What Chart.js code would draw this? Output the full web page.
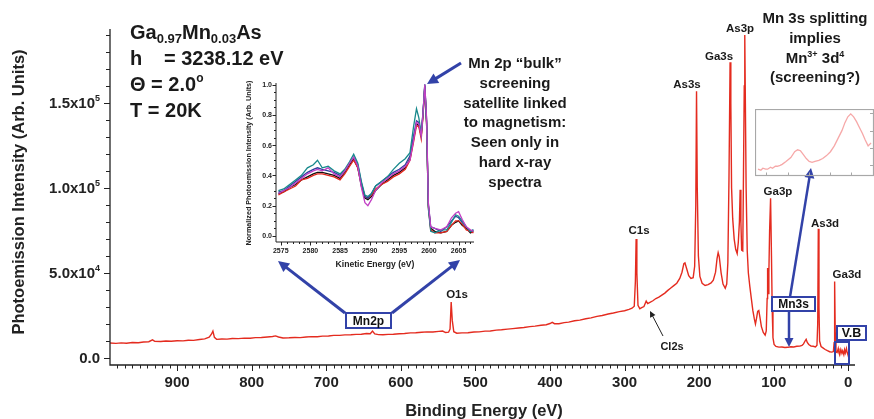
<!DOCTYPE html>
<html>
<head>
<meta charset="utf-8">
<script src="https://cdn.jsdelivr.net/npm/chart.js@4.4.0/dist/chart.umd.min.js"></script>
<style>
  body { margin: 0; background: #fff; }
  #wrap { position: relative; width: 874px; height: 419px; overflow: hidden; }
  canvas { position: absolute; }
</style>
</head>
<body>
<div id="wrap">
  <canvas id="main" width="874" height="419" style="left:0;top:0"></canvas>
  <canvas id="mn2p" width="250" height="200" style="left:230px;top:76px"></canvas>
  <canvas id="mn3s" width="119" height="68" style="left:755px;top:109px"></canvas>
</div>
<script>
// ---- survey spectrum (binding energy in eV, counts) ----
const bindingEnergy = [
  990, 982, 975, 968, 960, 952, 945, 938, 933, 930, 922, 915, 908, 900, 892, 885, 878, 870, 863, 857,
  854, 852, 850, 847, 840, 833, 826, 818, 810, 802, 795, 787, 779, 772, 768, 764, 758, 750, 742, 735,
  727, 720, 712, 705, 697, 690, 682, 675, 667, 660, 653, 646, 641, 638, 635, 630, 624, 617, 610, 602,
  595, 587, 580, 572, 565, 557, 549, 544, 540, 536, 534, 532.5, 531, 529, 525, 518, 510, 502, 495, 487,
  480, 472, 465, 457, 450, 442, 435, 427, 420, 412, 405, 400, 397, 394, 388, 381, 375, 367, 360, 352,
  345, 337, 330, 322, 315, 307, 300, 294, 290, 287, 285.5, 284.5, 283.5, 282, 279.5, 277, 274, 271, 269, 266,
  262, 258, 254, 250, 246, 242, 238, 234, 230, 226, 223, 220.5, 219, 217, 214, 211, 208, 206, 204.5, 203.5,
  202.5, 201, 199, 196, 192, 188, 184, 181, 178, 176, 174.5, 173, 170.5, 168, 165, 163, 161.5, 160, 158.5, 157.5,
  156.5, 155, 153, 151, 149, 147.5, 146, 145, 144, 143, 141.5, 140.5, 139.5, 138.8, 138, 137, 135.5, 134, 132, 130,
  128, 126, 124.5, 123, 121.5, 120, 118.5, 116.5, 114, 111.5, 110, 108.8, 108.2, 107.5, 106.5, 105.5, 104.2, 103, 102, 101,
  99.5, 97, 93, 89, 85, 81, 77, 73, 69, 65, 62, 60, 58, 56.5, 55, 53, 50, 47, 44, 42,
  41, 40.2, 39.3, 38.5, 36.5, 34, 31, 28, 25, 22, 20, 19, 18.3, 17.5, 16.5, 15, 13.5, 12.5, 11.5, 10,
  8.5, 7.5, 6, 5, 4, 2.5, 1.5, 0.5, -1
];
const counts = [
  8800, 8600, 8900, 8700, 9100, 9000, 9400, 9600, 10700, 9800, 9700, 10000, 9900, 10200, 10100, 10500, 10400, 10900, 11300, 12300,
  14000, 15800, 12200, 11000, 11200, 11100, 11500, 11400, 11700, 11600, 12000, 12100, 12400, 12700, 13000, 12400, 11800, 11900, 12100, 12000,
  12400, 12600, 12500, 12900, 13000, 13300, 13300, 13600, 13700, 13900, 14000, 14400, 14300, 15900, 14200, 13800, 13700, 13900, 14000, 14300,
  14400, 14800, 14900, 15200, 15400, 15300, 15700, 15900, 15000, 15200, 17000, 33000, 22000, 15500, 14600, 14800, 14900, 15300, 15400, 15800,
  15900, 16400, 16600, 17000, 17300, 17700, 18000, 18500, 18800, 19300, 19600, 20300, 21000, 20200, 20200, 20800, 21100, 21900, 22300, 23100,
  23600, 24500, 25000, 25900, 26500, 27300, 27800, 28600, 29300, 30500, 45000, 70000, 50000, 31000, 29000, 29600, 30300, 33500, 32000, 32800,
  33700, 35000, 35800, 37000, 38200, 39800, 41200, 42600, 44000, 46800, 50500, 55500, 56000, 53000, 48500, 46800, 47300, 54000, 90000, 157000,
  100000, 60000, 48000, 44000, 42700, 43200, 44200, 45800, 50500, 58500, 62000, 59500, 50000, 43500, 41000, 43500, 56000, 105000, 174000, 150000,
  100000, 82000, 70000, 64000, 61500, 68000, 80000, 99000, 80000, 63500, 63000, 110000, 160000, 190000, 150000, 100000, 63000, 50000, 42000, 35000,
  28000, 23000, 20000, 23500, 27500, 28000, 24000, 18500, 15000, 13500, 16000, 35000, 53000, 38000, 50000, 75000, 94000, 60000, 28000, 12000,
  8000, 6800, 6400, 6500, 6200, 6300, 6600, 6500, 6900, 7000, 7500, 8300, 10000, 11000, 9200, 8000, 7000, 6900, 6500, 7500,
  20000, 76000, 30000, 10000, 6800, 6000, 5000, 4300, 3700, 3500, 3800, 9000, 45000, 15000, 3500, 3200, 5600, 3000, 1800, 5000,
  2800, 4200, 2000, 4800, 3000, 5600, 3200, 2000, -500
];
const yTickValues = [0, 50000, 100000, 150000];
const yTickMantissa = ['0.0', '5.0x10', '1.0x10', '1.5x10'];
const yTickPower = ['', '4', '5', '5'];
const xTickValues = [900, 800, 700, 600, 500, 400, 300, 200, 100, 0];

// ---- Mn 2p inset (kinetic energy, normalized intensity, five scans) ----
const kineticEnergy = [
  2574.6, 2575.5, 2576.5, 2577.5, 2578.5, 2579.5, 2580.5, 2581.2, 2582, 2583, 2584, 2585, 2585.8, 2586.6, 2587.3, 2588,
  2588.6, 2589.2, 2589.7, 2590.3, 2591, 2592, 2593, 2594, 2595, 2596, 2596.8, 2597.4, 2597.9, 2598.3, 2598.7, 2599.0,
  2599.3, 2599.6, 2599.9, 2600.3, 2601, 2602, 2603, 2603.8, 2604.5, 2605, 2605.6, 2606.3, 2607, 2607.5
];
const scanBlack = [
  0.28, 0.29, 0.32, 0.34, 0.37, 0.39, 0.41, 0.42, 0.42, 0.41, 0.40, 0.38, 0.42, 0.47, 0.51, 0.45,
  0.33, 0.25, 0.24, 0.26, 0.30, 0.34, 0.37, 0.40, 0.42, 0.45, 0.51, 0.64, 0.74, 0.73, 0.66, 0.80,
  0.99, 0.75, 0.20, 0.05, 0.03, 0.02, 0.03, 0.07, 0.09, 0.10, 0.07, 0.05, 0.02, 0.03
];
const scanRed = [
  0.27, 0.29, 0.31, 0.33, 0.37, 0.38, 0.40, 0.41, 0.41, 0.40, 0.39, 0.37, 0.41, 0.46, 0.50, 0.45,
  0.34, 0.26, 0.25, 0.27, 0.31, 0.34, 0.36, 0.39, 0.41, 0.44, 0.50, 0.62, 0.73, 0.72, 0.64, 0.79,
  0.98, 0.74, 0.19, 0.04, 0.02, 0.02, 0.03, 0.07, 0.10, 0.10, 0.08, 0.04, 0.03, 0.02
];
const scanBlue = [
  0.29, 0.30, 0.33, 0.36, 0.39, 0.42, 0.44, 0.45, 0.44, 0.43, 0.42, 0.40, 0.43, 0.48, 0.52, 0.47,
  0.35, 0.26, 0.25, 0.28, 0.33, 0.36, 0.39, 0.42, 0.44, 0.47, 0.53, 0.66, 0.76, 0.75, 0.68, 0.82,
  1.00, 0.77, 0.21, 0.06, 0.05, 0.03, 0.06, 0.10, 0.13, 0.12, 0.09, 0.06, 0.03, 0.04
];
const scanTeal = [
  0.30, 0.31, 0.34, 0.37, 0.40, 0.45, 0.47, 0.50, 0.45, 0.46, 0.43, 0.41, 0.44, 0.49, 0.54, 0.48,
  0.36, 0.27, 0.26, 0.28, 0.33, 0.36, 0.39, 0.44, 0.48, 0.51, 0.55, 0.72, 0.84, 0.78, 0.67, 0.81,
  1.00, 0.74, 0.18, 0.03, 0.02, 0.04, 0.04, 0.09, 0.14, 0.13, 0.10, 0.06, 0.03, 0.04
];
const scanMagenta = [
  0.28, 0.30, 0.32, 0.35, 0.38, 0.41, 0.43, 0.44, 0.43, 0.45, 0.41, 0.39, 0.43, 0.48, 0.52, 0.46,
  0.32, 0.22, 0.20, 0.24, 0.30, 0.35, 0.38, 0.41, 0.43, 0.46, 0.50, 0.63, 0.75, 0.74, 0.66, 0.81,
  1.00, 0.78, 0.22, 0.06, 0.05, 0.04, 0.06, 0.12, 0.15, 0.16, 0.11, 0.06, 0.04, 0.03
];
const insetXTicks = [2575, 2580, 2585, 2590, 2595, 2600, 2605];
const insetYTicks = [0, 0.2, 0.4, 0.6, 0.8, 1.0];

// ---- Mn 3s detail (binding energy, arb. intensity) ----
const mn3sEnergy = [
  95.0, 94.7, 94.5, 94.2, 94.0, 93.7, 93.5, 93.2, 93.0, 92.7, 92.5, 92.1, 91.6, 91.2, 90.9, 90.6,
  90.3, 90.0, 89.7, 89.4, 89.1, 88.7, 88.3, 87.9, 87.5, 87.1, 86.7, 86.3, 86.0, 85.7, 85.4, 85.1,
  84.8, 84.5, 84.2, 83.9, 83.6, 83.3
];
const mn3sCounts = [
  6, 5, 7, 6, 6, 8, 7, 9, 9, 10, 11, 14, 18, 24, 26, 25,
  21, 17, 14, 13, 14, 15, 17, 20, 24, 30, 38, 46, 54, 60, 63, 60,
  55, 49, 43, 36, 30, 33
];

const FONT = '"Liberation Sans", Arial, Helvetica, sans-serif';
const RED = '#e42b1f';
const BLUE = '#3242a8';
function font(px) { return 'bold ' + px + 'px ' + FONT; }

function line(ctx, x1, y1, x2, y2) {
  ctx.beginPath(); ctx.moveTo(x1, y1); ctx.lineTo(x2, y2); ctx.stroke();
}

function arrow(ctx, x1, y1, x2, y2, color, w, head) {
  const a = Math.atan2(y2 - y1, x2 - x1);
  const c = Math.cos(a), s = Math.sin(a);
  ctx.save();
  ctx.strokeStyle = color; ctx.fillStyle = color; ctx.lineWidth = w;
  line(ctx, x1, y1, x2 - c * head * 0.8, y2 - s * head * 0.8);
  ctx.beginPath();
  ctx.moveTo(x2, y2);
  ctx.lineTo(x2 - head * c + head * 0.5 * s, y2 - head * s - head * 0.5 * c);
  ctx.lineTo(x2 - head * c - head * 0.5 * s, y2 - head * s + head * 0.5 * c);
  ctx.closePath(); ctx.fill();
  ctx.restore();
}

// parts: [text, size, dy]
function richText(ctx, parts, x, y, align) {
  let w = 0;
  parts.forEach(p => { ctx.font = font(p[1]); w += ctx.measureText(p[0]).width; });
  let cx = align === 'center' ? x - w / 2 : align === 'right' ? x - w : x;
  ctx.textAlign = 'left';
  parts.forEach(p => {
    ctx.font = font(p[1]);
    ctx.fillText(p[0], cx, y + (p[2] || 0));
    cx += ctx.measureText(p[0]).width;
  });
}

function textLines(ctx, lines, x, y0, step, size) {
  ctx.font = font(size); ctx.textAlign = 'center';
  lines.forEach((t, i) => ctx.fillText(t, x, y0 + i * step));
}

function boxLabel(ctx, text, x1, y1, x2, y2, size) {
  ctx.save();
  ctx.strokeStyle = BLUE; ctx.lineWidth = 2;
  ctx.fillStyle = '#fff';
  ctx.fillRect(x1, y1, x2 - x1, y2 - y1);
  ctx.strokeRect(x1, y1, x2 - x1, y2 - y1);
  ctx.fillStyle = '#111'; ctx.font = font(size); ctx.textAlign = 'center'; ctx.textBaseline = 'middle';
  ctx.fillText(text, (x1 + x2) / 2, (y1 + y2) / 2 + 1);
  ctx.restore();
}

// axes, ticks and labels of the survey
const surveyAxes = {
  id: 'surveyAxes',
  afterDraw(chart) {
    const { ctx, chartArea: a, scales: { x, y } } = chart;
    ctx.save();
    ctx.strokeStyle = '#222'; ctx.lineWidth = 1.3;
    ctx.beginPath(); ctx.moveTo(a.left, a.top - 2); ctx.lineTo(a.left, a.bottom); ctx.lineTo(a.right, a.bottom); ctx.stroke();
    ctx.lineWidth = 1;
    for (let v = 0; v <= 190000; v += 10000) {
      const py = Math.round(y.getPixelForValue(v)) + 0.5;
      line(ctx, a.left - (v % 50000 === 0 ? 6 : 4), py, a.left, py);
    }
    for (let v = 980; v >= 0; v -= 10) {
      const px = Math.round(x.getPixelForValue(v)) + 0.5;
      line(ctx, px, a.bottom, px, a.bottom + (v % 100 === 0 ? 6 : 3.5));
    }
    ctx.fillStyle = '#222';
    ctx.textBaseline = 'alphabetic';
    ctx.font = font(15); ctx.textAlign = 'center';
    xTickValues.forEach(v => ctx.fillText(String(v), x.getPixelForValue(v), 387));
    yTickValues.forEach((v, i) => {
      const py = y.getPixelForValue(v) + 5;
      if (yTickPower[i]) richText(ctx, [[yTickMantissa[i], 15], [yTickPower[i], 9, -7]], 100, py, 'right');
      else { ctx.font = font(15); ctx.textAlign = 'right'; ctx.fillText(yTickMantissa[i], 100, py); }
    });
    ctx.font = font(16.5); ctx.textAlign = 'center';
    ctx.fillText('Binding Energy (eV)', 484, 416);
    ctx.save();
    ctx.translate(24, 192); ctx.rotate(-Math.PI / 2);
    ctx.fillText('Photoemission Intensity (Arb. Units)', 0, 0);
    ctx.restore();
    ctx.restore();
  }
};

// peak names, notes and arrows
const surveyNotes = {
  id: 'surveyNotes',
  afterDraw(chart) {
    const { ctx } = chart;
    ctx.save();
    ctx.fillStyle = '#1a1a1a';
    richText(ctx, [['Ga', 20], ['0.97', 13, 4], ['Mn', 20], ['0.03', 13, 4], ['As', 20]], 130, 39, 'left');
    ctx.font = font(20); ctx.textAlign = 'left';
    ctx.fillText('h', 130, 65);
    ctx.fillText('= 3238.12 eV', 164, 65);
    richText(ctx, [['\u0398 = 2.0', 20], ['o', 12, -9]], 130, 91, 'left');
    ctx.font = font(20); ctx.textAlign = 'left';
    ctx.fillText('T = 20K', 130, 117);

    textLines(ctx, ['Mn 2p \u201cbulk\u201d', 'screening', 'satellite linked', 'to magnetism:', 'Seen only in', 'hard x-ray', 'spectra'],
      515, 68, 19.8, 15);
    textLines(ctx, ['Mn 3s splitting', 'implies'], 815, 23, 19.5, 15);
    richText(ctx, [['Mn', 15], ['3+', 9, -6], [' 3d', 15], ['4', 9, -6]], 815, 63, 'center');
    textLines(ctx, ['(screening?)'], 815, 82, 20, 15);

    ctx.font = font(11.5); ctx.textAlign = 'center';
    [['As3p', 740, 32], ['Ga3s', 719, 60], ['As3s', 687, 88], ['Ga3p', 778, 195], ['As3d', 825, 227],
     ['Ga3d', 847, 278], ['C1s', 639, 234], ['O1s', 457, 298]].forEach(l => ctx.fillText(l[0], l[1], l[2]));
    ctx.font = font(11); ctx.fillText('Cl2s', 672, 350);
    arrow(ctx, 663, 336, 650, 311, '#222', 1, 6);

    arrow(ctx, 345, 313, 278, 261, BLUE, 3, 11);
    arrow(ctx, 392, 313, 460, 260, BLUE, 3, 11);
    arrow(ctx, 461, 63, 427, 84, BLUE, 3, 11);
    boxLabel(ctx, 'Mn2p', 346, 313, 391, 328, 12);

    arrow(ctx, 790, 297, 811, 168, BLUE, 2.5, 10);
    arrow(ctx, 789, 310, 789, 347, BLUE, 2.5, 9);
    boxLabel(ctx, 'Mn3s', 772, 297, 815, 311, 12);
    boxLabel(ctx, 'V.B', 837, 326, 866, 340, 12.5);
    ctx.strokeStyle = BLUE; ctx.lineWidth = 2;
    ctx.strokeRect(835, 342, 14, 22);
    ctx.restore();
  }
};

new Chart(document.getElementById('main'), {
  type: 'line',
  data: {
    datasets: [{
      data: bindingEnergy.map((e, i) => ({ x: e, y: counts[i] })),
      borderColor: RED, borderWidth: 1.4, pointRadius: 0, tension: 0
    }]
  },
  options: {
    responsive: false, animation: false, events: [],
    layout: { padding: { left: 110, right: 19, top: 31, bottom: 54 } },
    plugins: { legend: { display: false }, tooltip: { enabled: false } },
    scales: {
      x: { type: 'linear', reverse: true, min: -9, max: 990, display: false },
      y: { type: 'linear', min: -4100, max: 192400, display: false }
    }
  },
  plugins: [surveyAxes, surveyNotes]
});

// ---- Mn 2p inset ----
const insetAxes = {
  id: 'insetAxes',
  afterDraw(chart) {
    const { ctx, chartArea: a, scales: { x, y } } = chart;
    ctx.save();
    ctx.strokeStyle = '#222'; ctx.lineWidth = 1;
    ctx.beginPath(); ctx.moveTo(a.left, a.top); ctx.lineTo(a.left, a.bottom); ctx.lineTo(a.right, a.bottom); ctx.stroke();
    for (let k = 0; k <= 20; k++) {
      const v = k * 0.05;
      const py = Math.round(y.getPixelForValue(v)) + 0.5;
      line(ctx, a.left - (k % 4 === 0 ? 3.5 : 2), py, a.left, py);
    }
    for (let v = 2575; v <= 2607; v++) {
      const px = Math.round(x.getPixelForValue(v)) + 0.5;
      line(ctx, px, a.bottom, px, a.bottom + (v % 5 === 0 ? 3.5 : 2));
    }
    ctx.fillStyle = '#222';
    ctx.font = font(7); ctx.textAlign = 'center';
    insetXTicks.forEach(v => ctx.fillText(String(v), x.getPixelForValue(v), 177));
    ctx.textAlign = 'right';
    insetYTicks.forEach(v => ctx.fillText(v.toFixed(1), a.left - 4, y.getPixelForValue(v) + 2.5));
    ctx.font = font(8.6); ctx.textAlign = 'center';
    ctx.fillText('Kinetic Energy (eV)', 145, 191);
    ctx.save();
    ctx.translate(20.5, 87); ctx.rotate(-Math.PI / 2);
    ctx.font = font(7.2);
    ctx.fillText('Normalized Photoemission Intensity (Arb. Units)', 0, 0);
    ctx.restore();
    ctx.restore();
  }
};

const scan = (vals, color) => ({
  data: kineticEnergy.map((e, i) => ({ x: e, y: vals[i] })),
  borderColor: color, borderWidth: 1.3, pointRadius: 0, tension: 0
});

new Chart(document.getElementById('mn2p'), {
  type: 'line',
  data: {
    datasets: [
      scan(scanMagenta, '#c23fc4'),
      scan(scanTeal, '#17898c'),
      scan(scanBlue, '#2e3f9e'),
      scan(scanRed, '#e3261c'),
      scan(scanBlack, '#111111')
    ]
  },
  options: {
    responsive: false, animation: false, events: [],
    layout: { padding: { left: 46, right: 6, top: 7, bottom: 34 } },
    plugins: { legend: { display: false }, tooltip: { enabled: false } },
    scales: {
      x: { type: 'linear', min: 2574.2, max: 2607.6, display: false },
      y: { type: 'linear', min: -0.04, max: 1.01, display: false }
    }
  },
  plugins: [insetAxes]
});

// ---- Mn 3s detail inset ----
const detailFrame = {
  id: 'detailFrame',
  afterDraw(chart) {
    const { ctx } = chart;
    const w = chart.width, h = chart.height;
    ctx.save();
    ctx.strokeStyle = '#a8a8a8'; ctx.lineWidth = 1.2;
    ctx.strokeRect(0.5, 0.5, w - 1, h - 2);
    ctx.lineWidth = 1;
    [4, 22, 39, 56].forEach(py => line(ctx, w - 4, py + 0.5, w, py + 0.5));
    [11, 33, 54, 75, 96].forEach(px => line(ctx, px + 0.5, h - 1.5, px + 0.5, h - 4.5));
    ctx.restore();
  }
};

new Chart(document.getElementById('mn3s'), {
  type: 'line',
  data: {
    datasets: [{
      data: mn3sEnergy.map((e, i) => ({ x: e, y: mn3sCounts[i] })),
      borderColor: 'rgba(240, 110, 110, 0.6)', borderWidth: 1.3, pointRadius: 0, tension: 0
    }]
  },
  options: {
    responsive: false, animation: false, events: [],
    layout: { padding: { left: 2, right: 2, top: 2, bottom: 2 } },
    plugins: { legend: { display: false }, tooltip: { enabled: false } },
    scales: {
      x: { type: 'linear', reverse: true, min: 83.2, max: 95.1, display: false },
      y: { type: 'linear', min: 0, max: 66, display: false }
    }
  },
  plugins: [detailFrame]
});
</script>
</body>
</html>
